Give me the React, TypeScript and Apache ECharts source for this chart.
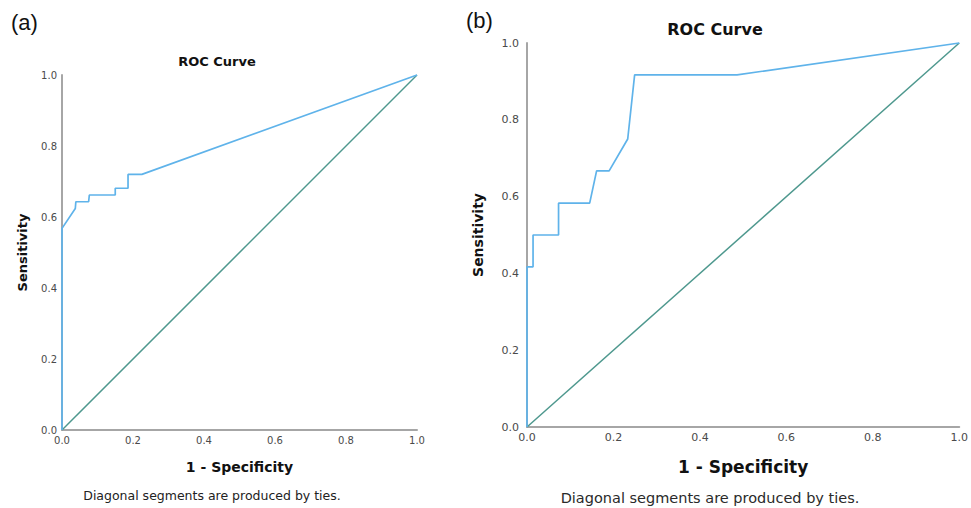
import React, { useEffect, useRef } from "react";
import * as echarts from "echarts";

// Panel (a) ROC curve: 1 - specificity (x) and sensitivity (y)
const rocAX = [0, 0, 0.0375, 0.039, 0.075, 0.077, 0.15, 0.15, 0.186, 0.186, 0.225, 1];
const rocAY = [0, 0.568, 0.624, 0.643, 0.643, 0.662, 0.662, 0.681, 0.681, 0.72, 0.72, 1];
// Panel (b) ROC curve
const rocBX = [0, 0, 0.014, 0.014, 0.073, 0.073, 0.145, 0.161, 0.19, 0.233, 0.249, 0.486, 1];
const rocBY = [0, 0.417, 0.417, 0.5, 0.5, 0.583, 0.583, 0.667, 0.667, 0.75, 0.917, 0.917, 1];
// Reference diagonal
const diagX = [0, 1];
const diagY = [0, 1];

const titleText = "ROC Curve";
const xName = "1 - Specificity";
const yName = "Sensitivity";
const footnote = "Diagonal segments are produced by ties.";

const FONT = "DejaVu Sans";
const BLUE = "#5fb3ea";
const TEAL = "#4e988e";
const AXIS = "#a6a6a6";
const LABEL = "#4a4a4a";

function pairs(xs: number[], ys: number[]) {
  return xs.map((x, i) => [x, ys[i]]);
}

export default function App() {
  const ref = useRef<HTMLDivElement>(null);
  useEffect(() => {
    if (!ref.current) return;
    const chart = echarts.init(ref.current, undefined, { renderer: "svg" });
    const mkX = (gi: number, fs: number, nameFs: number, nameGap: number, lm: number) => ({
      type: "value",
      gridIndex: gi,
      min: 0,
      max: 1,
      interval: 0.2,
      name: xName,
      nameLocation: "middle",
      nameGap,
      nameTextStyle: { fontFamily: FONT, fontWeight: "bold", fontSize: nameFs, color: "#111" },
      axisLine: { show: true, onZero: false, lineStyle: { color: AXIS, width: 2 } },
      axisTick: { show: false },
      splitLine: { show: false },
      axisLabel: {
        fontFamily: FONT,
        fontSize: fs,
        color: LABEL,
        margin: lm,
        formatter: (v: number) => v.toFixed(1),
        showMinLabel: true,
        showMaxLabel: true,
      },
    });
    const mkY = (gi: number, fs: number, nameFs: number, nameGap: number, lm: number) => ({
      type: "value",
      gridIndex: gi,
      min: 0,
      max: 1,
      interval: 0.2,
      name: yName,
      nameLocation: "middle",
      nameGap,
      nameTextStyle: { fontFamily: FONT, fontWeight: "bold", fontSize: nameFs, color: "#111" },
      axisLine: { show: true, onZero: false, lineStyle: { color: AXIS, width: 2 } },
      axisTick: { show: false },
      splitLine: { show: false },
      axisLabel: {
        fontFamily: FONT,
        fontSize: fs,
        color: LABEL,
        margin: lm,
        formatter: (v: number) => v.toFixed(1),
      },
    });
    const lineSeries = (xi: number, data: number[][], color: string, w: number) => ({
      type: "line",
      xAxisIndex: xi,
      yAxisIndex: xi,
      data,
      showSymbol: false,
      symbol: "none",
      clip: false,
      lineStyle: { color, width: w },
      z: color === BLUE ? 3 : 2,
    });
    chart.setOption({
      animation: false,
      backgroundColor: "#ffffff",
      title: [
        {
          text: titleText,
          left: 212,
          top: 50,
          textAlign: "center",
          textStyle: { fontFamily: FONT, fontWeight: "bold", fontSize: 13, color: "#111" },
        },
        {
          text: titleText,
          left: 710,
          top: 16,
          textAlign: "center",
          textStyle: { fontFamily: FONT, fontWeight: "bold", fontSize: 16, color: "#111" },
        },
      ],
      grid: [
        { left: 62, top: 75, width: 355, height: 355, containLabel: false },
        { left: 527, top: 43, width: 435, height: 384, containLabel: false },
      ],
      xAxis: [mkX(0, 10, 14, 30, 5), mkX(1, 11, 17, 31, 5)],
      yAxis: [mkY(0, 10, 13, 33, 5), mkY(1, 11, 14, 42, 8)],
      series: [
        lineSeries(0, pairs(diagX, diagY), TEAL, 1.5),
        lineSeries(0, pairs(rocAX, rocAY), BLUE, 1.7),
        lineSeries(1, pairs(diagX, diagY), TEAL, 1.5),
        lineSeries(1, pairs(rocBX, rocBY), BLUE, 1.7),
      ],
      graphic: [
        {
          type: "text",
          left: 11,
          top: 11,
          style: { text: "(a)", font: "22px 'Liberation Sans'", fill: "#111" },
        },
        {
          type: "text",
          left: 466,
          top: 9,
          style: { text: "(b)", font: "22px 'Liberation Sans'", fill: "#111" },
        },
        {
          type: "text",
          x: 212,
          y: 495,
          style: { text: footnote, font: "12.5px 'DejaVu Sans'", fill: "#222", align: "center", verticalAlign: "middle" },
        },
        {
          type: "text",
          x: 710,
          y: 498,
          style: { text: footnote, font: "14.5px 'DejaVu Sans'", fill: "#2a2a2a", align: "center", verticalAlign: "middle" },
        },
      ],
    });
    return () => chart.dispose();
  }, []);
  return (
    <div
      ref={ref}
      style={{ position: "fixed", left: 0, top: 0, width: 971, height: 508, background: "#fff" }}
    />
  );
}
